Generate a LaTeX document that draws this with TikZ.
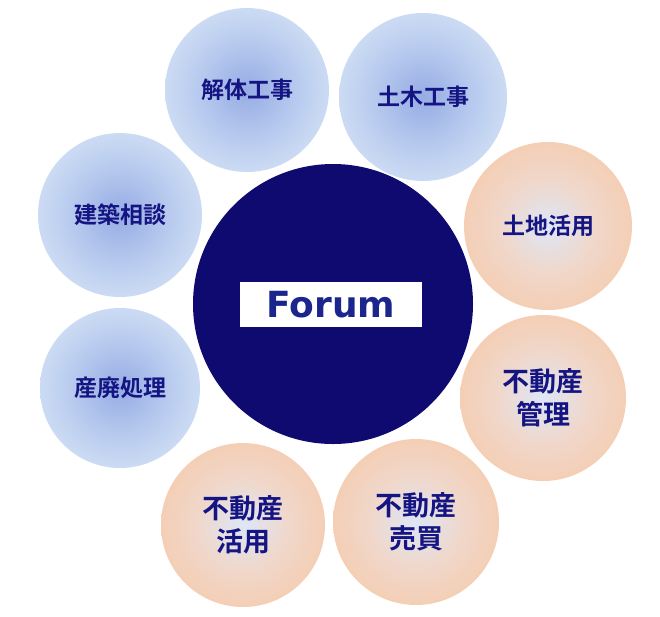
\documentclass[tikz,border=0pt]{standalone}
\usepackage{fontspec}
\newfontfamily\jpfont{Noto Sans CJK JP}[UprightFont={* Bold}]
\newfontfamily\forumfont{DejaVu Sans}
\usepackage{tikz}
\usetikzlibrary{positioning}
\usepackage{xcolor}
\definecolor{hubnavy}{RGB}{14,10,112}
\definecolor{labelnavy}{RGB}{20,20,130}
\definecolor{forumblue}{RGB}{26,38,140}
\definecolor{bubcore}{RGB}{150,172,228}
\definecolor{bubmid}{RGB}{190,208,240}
\definecolor{bubedge}{RGB}{221,233,248}
\definecolor{bubrim}{RGB}{184,208,239}
\definecolor{peachcore}{RGB}{222,230,246}
\definecolor{peachmid}{RGB}{240,215,202}
\definecolor{peachedge}{RGB}{246,203,172}
\definecolor{peachrim}{RGB}{247,199,164}
\pgfdeclareradialshading{bluebub}{\pgfpoint{0bp}{0bp}}{color(0bp)=(bubcore); color(18bp)=(bubmid); color(34bp)=(bubedge); color(47bp)=(bubedge); color(50bp)=(bubrim)}
\pgfdeclareradialshading{peachbub}{\pgfpoint{0bp}{0bp}}{color(0bp)=(peachcore); color(14bp)=(peachmid); color(30bp)=(peachedge); color(50bp)=(peachrim)}

\begin{document}
\begin{tikzpicture}[x=1pt, y=-1pt,
      bub/.style={circle, inner sep=0pt, align=center, text=labelnavy,
                  font=\jpfont\fontsize{23}{27}\selectfont},
      blue bub/.style={bub, shading=bluebub},
      peach bub/.style={bub, shading=peachbub,
                  font=\jpfont\fontsize{27}{33}\selectfont}
    ]
    \useasboundingbox (0,0) rectangle (660,616);

    % centre disc
    \node[circle, fill=hubnavy, minimum size=280pt, inner sep=0pt] (hub) at (333,304) {};
    \node[fill=white, minimum width=182pt, minimum height=45pt, inner sep=0pt,
          text=forumblue, font=\forumfont\bfseries\fontsize{36}{36}\selectfont]
          (forum) at (331,304.5) {Forum};

    % blue bubbles
    \node[blue bub, minimum size=164pt] (kaitai) at (247,90)  {解体工事};
    \node[blue bub, minimum size=168pt] (doboku) at (423,97)  {土木工事};
    \node[blue bub, minimum size=164pt] (kenchiku) at (120,215) {建築相談};
    \node[blue bub, minimum size=160pt] (sanpai) at (120,388) {産廃処理};

    % peach bubbles
    \node[peach bub, minimum size=168pt, font=\jpfont\fontsize{23}{27}\selectfont]
          (tochi) at (548,226) {土地活用};
    \node[peach bub, minimum size=166pt] (kanri)  at (543,398) {不動産\\管理};
    \node[peach bub, minimum size=166pt] (baibai) at (416,522) {不動産\\売買};
    \node[peach bub, minimum size=164pt] (katsuyo) at (243,525) {不動産\\活用};
  \end{tikzpicture}
\end{document}
